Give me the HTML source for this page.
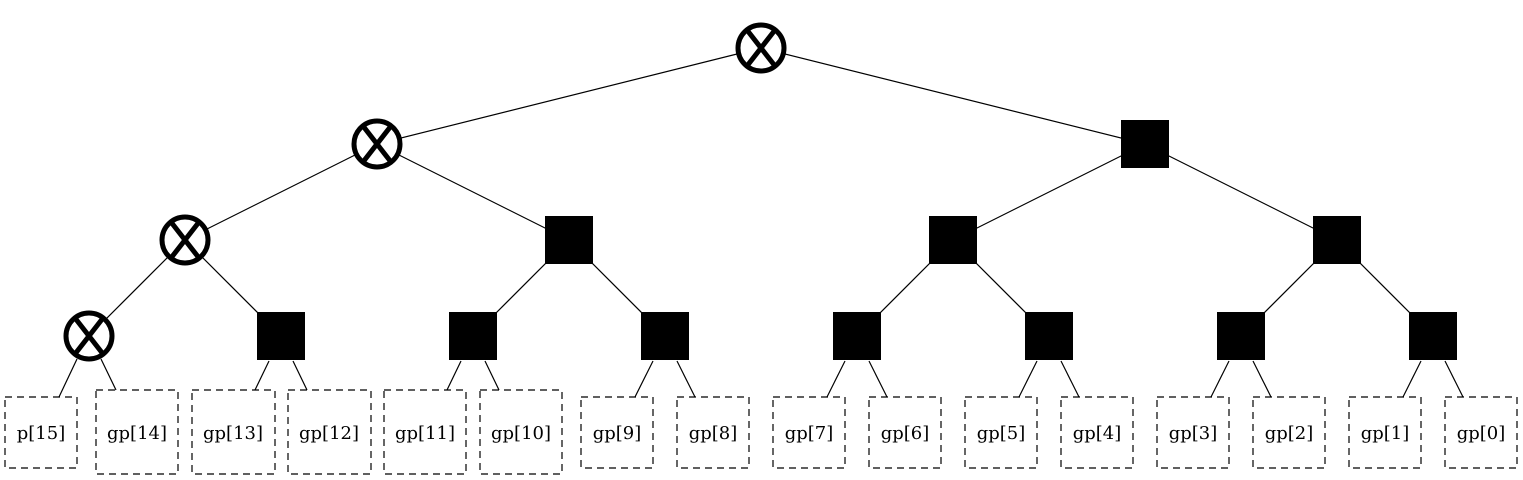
<!DOCTYPE html>
<html><head><meta charset="utf-8"><style>
html,body{margin:0;padding:0;background:#fff;width:1523px;height:480px;overflow:hidden}
svg{display:block}
text{font-family:"DejaVu Serif","Liberation Serif",serif;font-size:18px;fill:#000}
</style></head><body>
<svg width="1523" height="480" viewBox="0 0 1523 480" xmlns="http://www.w3.org/2000/svg">
<g stroke="#000" stroke-width="1.2" fill="none">
<line x1="761" y1="48" x2="377" y2="144"/>
<line x1="761" y1="48" x2="1145" y2="144"/>
<line x1="377" y1="144" x2="185" y2="240"/>
<line x1="377" y1="144" x2="569" y2="240"/>
<line x1="1145" y1="144" x2="953" y2="240"/>
<line x1="1145" y1="144" x2="1337" y2="240"/>
<line x1="185" y1="240" x2="89" y2="336"/>
<line x1="185" y1="240" x2="281" y2="336"/>
<line x1="569" y1="240" x2="473" y2="336"/>
<line x1="569" y1="240" x2="665" y2="336"/>
<line x1="953" y1="240" x2="857" y2="336"/>
<line x1="953" y1="240" x2="1049" y2="336"/>
<line x1="1337" y1="240" x2="1241" y2="336"/>
<line x1="1337" y1="240" x2="1433" y2="336"/>
<line x1="77" y1="359" x2="59" y2="397"/>
<line x1="101" y1="359" x2="116" y2="390"/>
<line x1="269" y1="361" x2="255" y2="390"/>
<line x1="293" y1="361" x2="307" y2="390"/>
<line x1="461" y1="361" x2="447" y2="390"/>
<line x1="485" y1="361" x2="499" y2="390"/>
<line x1="653" y1="361" x2="635" y2="397"/>
<line x1="677" y1="361" x2="695" y2="397"/>
<line x1="845" y1="361" x2="827" y2="397"/>
<line x1="869" y1="361" x2="887" y2="397"/>
<line x1="1037" y1="361" x2="1019" y2="397"/>
<line x1="1061" y1="361" x2="1079" y2="397"/>
<line x1="1229" y1="361" x2="1211" y2="397"/>
<line x1="1253" y1="361" x2="1271" y2="397"/>
<line x1="1421" y1="361" x2="1403" y2="397"/>
<line x1="1445" y1="361" x2="1463" y2="397"/>
</g>
<g fill="#000">
<rect x="1121" y="120" width="48" height="48"/>
<rect x="545" y="216" width="48" height="48"/>
<rect x="929" y="216" width="48" height="48"/>
<rect x="1313" y="216" width="48" height="48"/>
<rect x="257" y="312" width="48" height="48"/>
<rect x="449" y="312" width="48" height="48"/>
<rect x="641" y="312" width="48" height="48"/>
<rect x="833" y="312" width="48" height="48"/>
<rect x="1025" y="312" width="48" height="48"/>
<rect x="1217" y="312" width="48" height="48"/>
<rect x="1409" y="312" width="48" height="48"/>
</g>
<g stroke="#000" stroke-width="5" fill="#fff">
<circle cx="761" cy="48" r="23"/>
<circle cx="377" cy="144" r="23"/>
<circle cx="185" cy="240" r="23"/>
<circle cx="89" cy="336" r="23"/>
</g>
<g stroke="#000" stroke-width="5">
<path d="M747 30 L775 66 M775 30 L747 66"/>
<path d="M363 126 L391 162 M391 126 L363 162"/>
<path d="M171 222 L199 258 M199 222 L171 258"/>
<path d="M75 318 L103 354 M103 318 L75 354"/>
</g>
<g stroke="#000" stroke-width="1.2" fill="none" stroke-dasharray="7,5">
<rect x="5" y="397" width="72" height="71"/>
<rect x="96" y="390" width="82" height="84"/>
<rect x="192" y="390" width="83" height="84"/>
<rect x="288" y="390" width="83" height="84"/>
<rect x="384" y="390" width="82" height="84"/>
<rect x="480" y="390" width="82" height="84"/>
<rect x="581" y="397" width="72" height="71"/>
<rect x="677" y="397" width="72" height="71"/>
<rect x="773" y="397" width="72" height="71"/>
<rect x="869" y="397" width="72" height="71"/>
<rect x="965" y="397" width="72" height="71"/>
<rect x="1061" y="397" width="72" height="71"/>
<rect x="1157" y="397" width="72" height="71"/>
<rect x="1253" y="397" width="72" height="71"/>
<rect x="1349" y="397" width="72" height="71"/>
<rect x="1445" y="397" width="72" height="71"/>
</g>
<g text-anchor="middle">
<text x="41" y="439">p[15]</text>
<text x="137" y="439">gp[14]</text>
<text x="233" y="439">gp[13]</text>
<text x="329" y="439">gp[12]</text>
<text x="425" y="439">gp[11]</text>
<text x="521" y="439">gp[10]</text>
<text x="617" y="439">gp[9]</text>
<text x="713" y="439">gp[8]</text>
<text x="809" y="439">gp[7]</text>
<text x="905" y="439">gp[6]</text>
<text x="1001" y="439">gp[5]</text>
<text x="1097" y="439">gp[4]</text>
<text x="1193" y="439">gp[3]</text>
<text x="1289" y="439">gp[2]</text>
<text x="1385" y="439">gp[1]</text>
<text x="1481" y="439">gp[0]</text>
</g>
</svg>
</body></html>
